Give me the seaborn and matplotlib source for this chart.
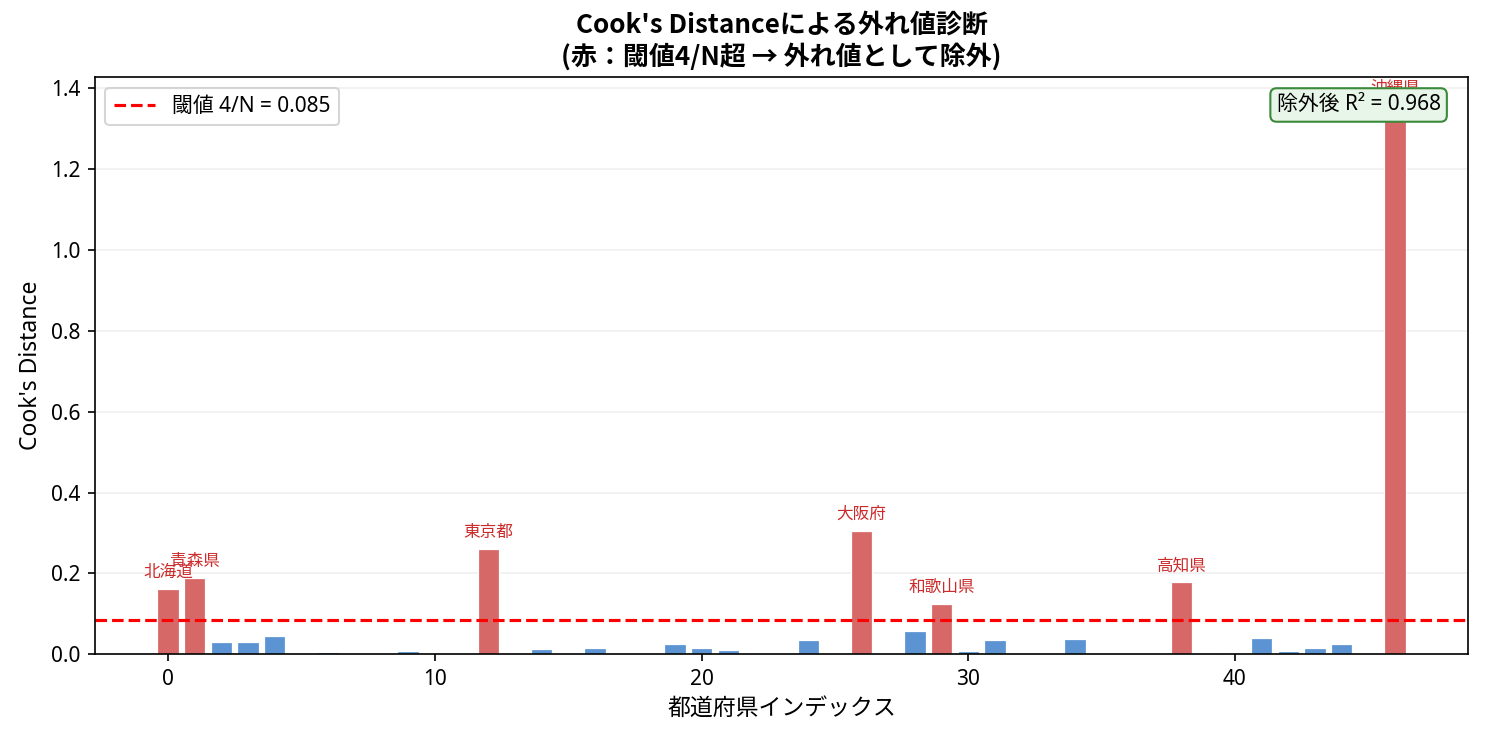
import pandas as pd
import matplotlib
matplotlib.use("Agg")
import matplotlib.pyplot as plt
import seaborn as sns

# --- DATA ---
prefectures = [
    "北海道", "青森県", "岩手県", "宮城県", "秋田県", "山形県", "福島県",
    "茨城県", "栃木県", "群馬県", "埼玉県", "千葉県", "東京都", "神奈川県",
    "新潟県", "富山県", "石川県", "福井県", "山梨県", "長野県", "岐阜県",
    "静岡県", "愛知県", "三重県", "滋賀県", "京都府", "大阪府", "兵庫県",
    "奈良県", "和歌山県", "鳥取県", "島根県", "岡山県", "広島県", "山口県",
    "徳島県", "香川県", "愛媛県", "高知県", "福岡県", "佐賀県", "長崎県",
    "熊本県", "大分県", "宮崎県", "鹿児島県", "沖縄県",
]
cooks_d = [
    0.162, 0.189, 0.029, 0.031, 0.046, 0.0004, 0.006,
    0.0004, 0.0004, 0.009, 0.0004, 0.0004, 0.261, 0.0004,
    0.012, 0.0004, 0.015, 0.0004, 0.0004, 0.026, 0.016,
    0.011, 0.0004, 0.0004, 0.036, 0.0004, 0.304, 0.0004,
    0.058, 0.125, 0.009, 0.036, 0.0004, 0.0004, 0.038,
    0.0004, 0.0004, 0.0004, 0.178, 0.003, 0.003, 0.041,
    0.009, 0.016, 0.026, 0.0004, 1.36,
]
threshold = 4 / len(prefectures)
r2_after = 0.968

df = pd.DataFrame({"idx": range(len(prefectures)), "pref": prefectures, "cooks_d": cooks_d})
df["outlier"] = df["cooks_d"] > threshold

# --- PLOT ---
sns.set_style("ticks")
plt.rcParams["font.family"] = ["Noto Sans", "Noto Sans CJK JP", "DejaVu Sans"]
for key in ["text.color", "axes.labelcolor", "xtick.color", "ytick.color", "axes.edgecolor"]:
    plt.rcParams[key] = "black"

fig, ax = plt.subplots(figsize=(9.9, 4.9), dpi=150)
fig.subplots_adjust(left=0.064, right=0.9886, top=0.895, bottom=0.110)

sns.barplot(data=df, x="idx", y="cooks_d", hue="outlier", native_scale=True,
            palette={True: "#d76868", False: "#5b93d3"}, dodge=False, saturation=1,
            edgecolor="white", linewidth=0.6, legend=False, ax=ax)

ax.axhline(threshold, color="red", linestyle="--", linewidth=1.5,
           label=f"閾値 4/N = {threshold:.3f}")

for _, row in df[df["outlier"]].iterrows():
    ax.text(row["idx"], row["cooks_d"] + 0.02, row["pref"], ha="center", va="bottom",
            fontsize=8, color="#cc2b2b", clip_on=True)

ax.text(0.98, 0.97, f"除外後 R² = {r2_after:.3f}", transform=ax.transAxes,
        ha="right", va="top", fontsize=10,
        bbox=dict(boxstyle="round,pad=0.3", facecolor="#e8f5e9", edgecolor="#3a8a3a"))

ax.set_xticks([0, 10, 20, 30, 40])
ax.tick_params(labelsize=10)
ax.grid(axis="y", alpha=0.3)
ax.set_axisbelow(True)
ax.set_xlabel("都道府県インデックス", fontsize=11)
ax.set_ylabel("Cook's Distance", fontsize=11)
ax.set_title("Cook's Distanceによる外れ値診断\n(赤：閾値4/N超 → 外れ値として除外)",
             fontsize=12.5, fontweight="bold", family=["Noto Sans CJK JP", "DejaVu Sans"])
ax.legend(loc="upper left", fontsize=10)

plt.savefig("out.png", dpi=150)
plt.close()
